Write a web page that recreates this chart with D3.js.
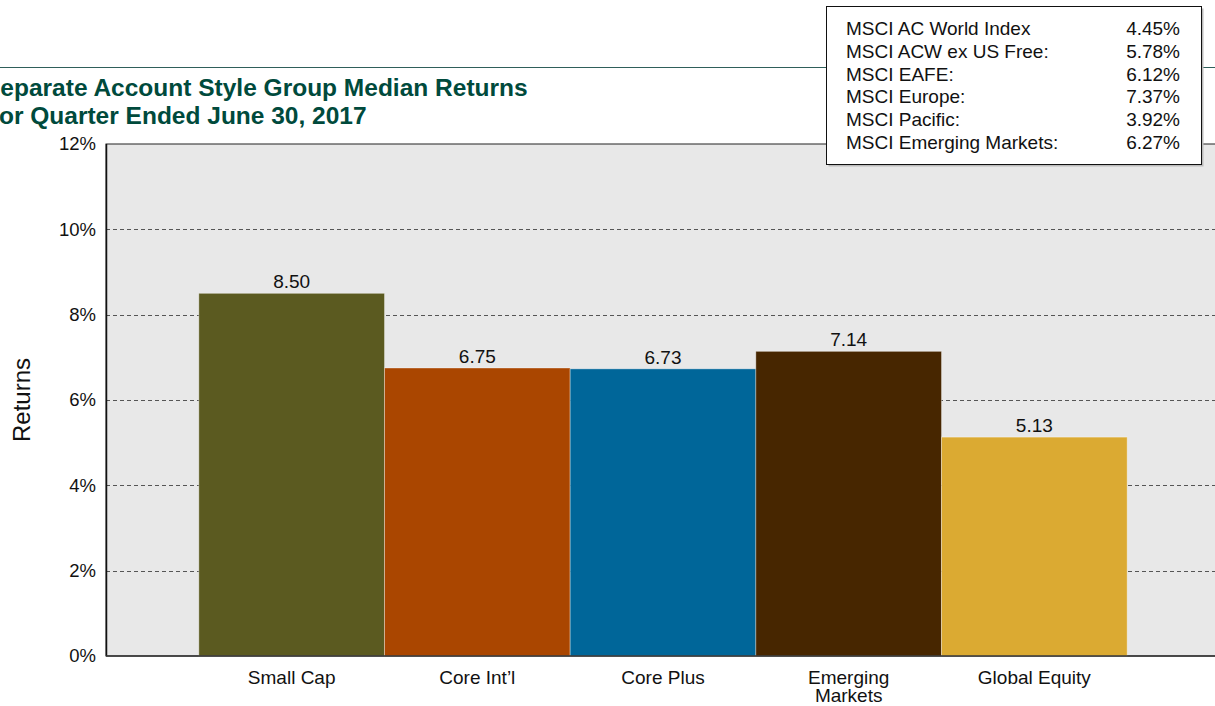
<!DOCTYPE html>
<html>
<head>
<meta charset="utf-8">
<script src="https://cdn.jsdelivr.net/npm/d3@7"></script>
<style>
body { margin:0; background:#fff; }
text { font-family:"Liberation Sans", Arial, sans-serif; }
</style>
</head>
<body>
<svg></svg>
<script>
var categories = ["Small Cap","Core Int\u2019l","Core Plus","Emerging Markets","Global Equity"]
var returns = [8.50,6.75,6.73,7.14,5.13]
var barColors = ["#5b5a20","#aa4600","#006699","#472600","#dbaa32"]
var yTicks = [0,2,4,6,8,10,12]

var indexNames = ["MSCI AC World Index","MSCI ACW ex US Free:","MSCI EAFE:","MSCI Europe:","MSCI Pacific:","MSCI Emerging Markets:"]
var indexValues = [4.45,5.78,6.12,7.37,3.92,6.27]

var screen = {width:1215,height:706}
var plot = {left:106,top:144,right:1220,bottom:656}

var svg = d3.select("svg")
    .attr("width",screen.width)
    .attr("height",screen.height)

// rule under the header
svg.append("line")
    .attr("x1",0).attr("x2",screen.width)
    .attr("y1",67.5).attr("y2",67.5)
    .attr("stroke","#2f5f5a")
    .attr("stroke-width",1.2)

// title (runs off the left edge like the original)
svg.append("text")
    .attr("x",-16).attr("y",96)
    .attr("fill","#004a3c")
    .attr("font-size",24.5)
    .attr("font-weight","bold")
    .text("Separate Account Style Group Median Returns")
svg.append("text")
    .attr("x",-16).attr("y",124)
    .attr("fill","#004a3c")
    .attr("font-size",24.5)
    .attr("font-weight","bold")
    .text("For Quarter Ended June 30, 2017")

var xScale = d3.scaleBand()
    .domain(categories)
    .range([plot.left,plot.right])
    .paddingInner(0)
    .paddingOuter(0.5)

var yScale = d3.scaleLinear()
    .domain([0,12])
    .range([plot.bottom,plot.top])

// plot background
svg.append("rect")
    .attr("x",plot.left).attr("y",plot.top)
    .attr("width",plot.right-plot.left)
    .attr("height",plot.bottom-plot.top)
    .attr("fill","#e8e8e8")
    .attr("stroke","#222")
    .attr("stroke-width",1)

// gridlines
svg.append("g")
    .selectAll("line")
    .data(yTicks.filter(function(t){return t>0 && t<12}))
    .enter()
    .append("line")
    .attr("x1",plot.left).attr("x2",plot.right)
    .attr("y1",function(t){return Math.round(yScale(t))+0.5})
    .attr("y2",function(t){return Math.round(yScale(t))+0.5})
    .attr("stroke","#555")
    .attr("stroke-dasharray","4,3")

// bars
svg.append("g")
    .selectAll("rect")
    .data(returns)
    .enter()
    .append("rect")
    .attr("x",function(d,i){return xScale(categories[i])})
    .attr("y",function(d){return yScale(d)})
    .attr("width",xScale.bandwidth())
    .attr("height",function(d){return plot.bottom-yScale(d)})
    .attr("fill",function(d,i){return barColors[i]})
    .attr("stroke","rgba(255,255,255,0.35)")
    .attr("stroke-width",1)

// value labels
svg.append("g")
    .selectAll("text")
    .data(returns)
    .enter()
    .append("text")
    .attr("x",function(d,i){return xScale(categories[i])+xScale.bandwidth()/2})
    .attr("y",function(d){return yScale(d)-5})
    .attr("text-anchor","middle")
    .attr("font-size",19)
    .attr("fill","#111")
    .text(function(d){return d.toFixed(2)})

// axes lines
svg.append("line")
    .attr("x1",plot.left+0.5).attr("x2",plot.left+0.5)
    .attr("y1",plot.top).attr("y2",plot.bottom)
    .attr("stroke","#111").attr("stroke-width",1.5)
svg.append("line")
    .attr("x1",plot.left).attr("x2",plot.right)
    .attr("y1",plot.bottom).attr("y2",plot.bottom)
    .attr("stroke","#333").attr("stroke-width",1.5)

// y axis
var yAxis = d3.axisLeft(yScale)
    .tickValues(yTicks)
    .tickSize(0)
    .tickPadding(10)
    .tickFormat(function(t){return t+"%"})
var yg = svg.append("g")
    .attr("transform","translate("+plot.left+",0)")
    .call(yAxis)
yg.select(".domain").remove()
yg.selectAll("text")
    .attr("font-size",18.5)
    .attr("font-family","Liberation Sans, Arial, sans-serif")
    .attr("fill","#111")

svg.append("text")
    .attr("transform","translate(30,400) rotate(-90)")
    .attr("text-anchor","middle")
    .attr("font-size",24)
    .attr("fill","#111")
    .text("Returns")

// x axis
var xAxis = d3.axisBottom(xScale).tickSize(0).tickPadding(0).tickFormat("")
var xg = svg.append("g")
    .attr("transform","translate(0,"+plot.bottom+")")
    .call(xAxis)
xg.select(".domain").remove()
xg.selectAll(".tick")
    .append("text")
    .attr("text-anchor","middle")
    .attr("font-size",19)
    .attr("fill","#111")
    .attr("font-family","Liberation Sans, Arial, sans-serif")
    .each(function(c)
        {
            var words = c == "Emerging Markets" ? ["Emerging","Markets"] : [c]
            var t = d3.select(this)
            words.forEach(function(w,k)
                {
                    t.append("tspan")
                        .attr("x",0)
                        .attr("y",28+k*17.5)
                        .text(w)
                })
        })

// index box
var box = {x:826.5,y:6.5,width:375,height:158}
svg.append("rect")
    .attr("x",box.x+2).attr("y",box.y+2)
    .attr("width",box.width).attr("height",box.height)
    .attr("fill","#bbb")
svg.append("rect")
    .attr("x",box.x).attr("y",box.y)
    .attr("width",box.width).attr("height",box.height)
    .attr("fill","#fff")
    .attr("stroke","#111")
    .attr("stroke-width",1)

var rows = svg.append("g")
    .selectAll("g")
    .data(indexNames)
    .enter()
    .append("g")
    .attr("transform",function(d,i){return "translate(0,"+(35+i*22.8)+")"})
rows.append("text")
    .attr("x",846)
    .attr("font-size",19)
    .attr("fill","#111")
    .text(function(d){return d})
rows.append("text")
    .attr("x",1180)
    .attr("text-anchor","end")
    .attr("font-size",19)
    .attr("fill","#111")
    .text(function(d,i){return indexValues[i].toFixed(2)+"%"})
</script>
</body>
</html>
